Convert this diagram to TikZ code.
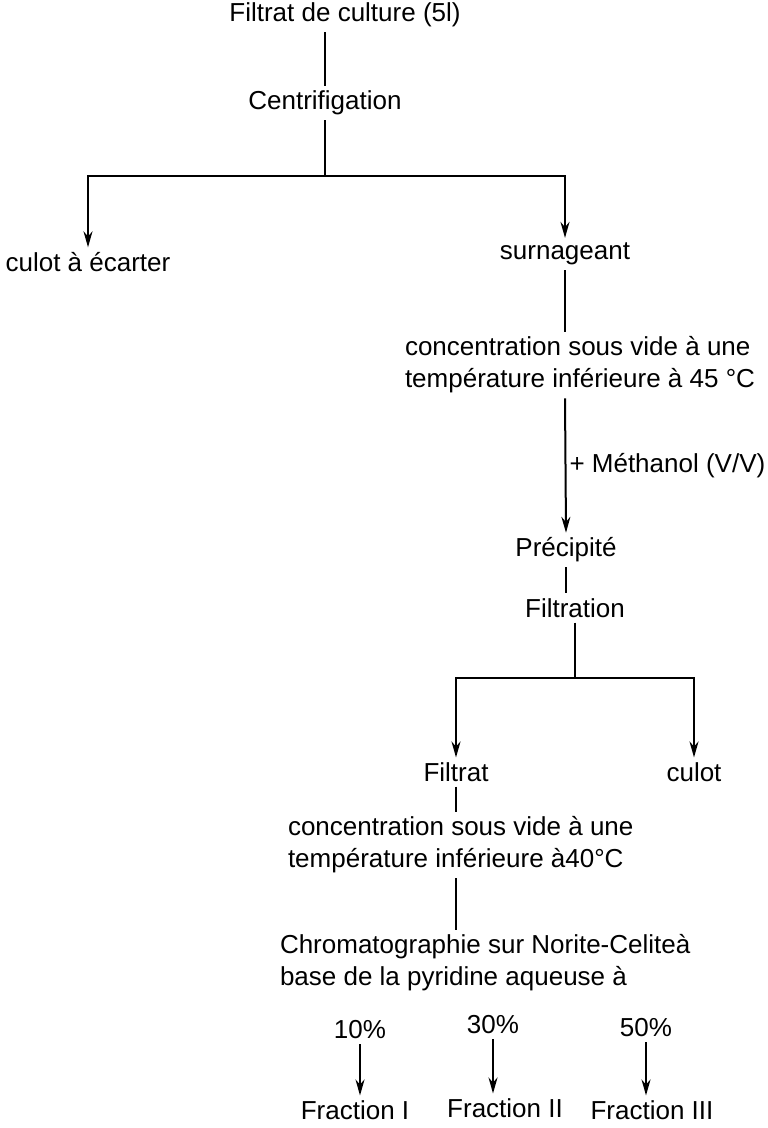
\documentclass[tikz,border=0pt]{standalone}
\usepackage{fontspec}
\setmainfont{Liberation Sans}
\usetikzlibrary{arrows.meta}
\begin{document}
\begin{tikzpicture}[x=0.5pt, y=-0.5pt, line width=1pt,
		every node/.style={font=\fontsize{13}{16}\selectfont, inner sep=2pt},
		etape/.style={align=left, anchor=west},
		fleche/.style={-{Stealth[length=8pt, width=4.5pt]}}]
	\useasboundingbox (0,0) rectangle (767,1128);
	\node (filtrat) at (345,15) {Filtrat de culture (5l)};
	\node (centri) at (325,103) {Centrifigation};
	\node (culot1) at (88,262) {culot à écarter};
	\node (surn) at (565,254) {surnageant};
	\node[etape] (conc1) at (400,365) {concentration sous vide à une\\température inférieure à 45 °C};
	\node (precip) at (566,550) {Précipité};
	\node (filtration) at (575,608) {Filtration};
	\node (filtrat2) at (456,772) {Filtrat};
	\node (culot2) at (694,772) {culot};
	\node[etape] (conc2) at (283,845) {concentration sous vide à une\\température inférieure à40°C};
	\node[etape] (chroma) at (275,963) {Chromatographie sur Norite-Celiteà\\base de la pyridine aqueuse à};
	\node (p10) at (360,1030) {10\%};
	\node (p30) at (493,1025) {30\%};
	\node (p50) at (646,1028) {50\%};
	\node (frac1) at (355,1110) {Fraction I};
	\node (frac2) at (505,1108) {Fraction II};
	\node (frac3) at (652,1110) {Fraction III};
	% centrifugation
	\draw (centri.north) -- (centri.north |- filtrat.south);
	\draw (centri.south) -- ++(0,56) coordinate (b1);
	\draw[fleche] (b1) -| (culot1.north);
	\draw[fleche] (b1) -| (surn.north);
	% surnageant
	\draw (surn.south) -- (surn.south |- conc1.north);
	\draw[fleche] (conc1.south -| surn.south) -- (precip.north) node[midway, right, inner sep=1.5pt] {+ Méthanol (V/V)};
	\draw (precip.south) -- (precip.south |- filtration.north);
	% filtration
	\draw (filtration.south) -- ++(0,55) coordinate (b2);
	\draw[fleche] (b2) -| (filtrat2.north);
	\draw[fleche] (b2) -| (culot2.north);
	\draw (filtrat2.south) -- (filtrat2.south |- conc2.north);
	\draw (filtrat2.south |- conc2.south) -- (filtrat2.south |- chroma.north);
	% fractions
	\draw[fleche] (p10.south) -- (p10.south |- frac1.north);
	\draw[fleche] (p30.south) -- (p30.south |- frac2.north);
	\draw[fleche] (p50.south) -- (p50.south |- frac3.north);
\end{tikzpicture}
\end{document}
